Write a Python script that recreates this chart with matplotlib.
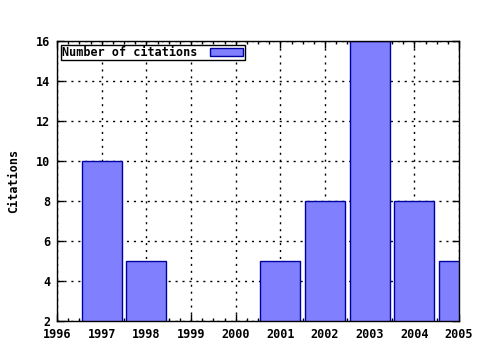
import matplotlib
matplotlib.use("Agg")
from matplotlib import pyplot as plt
from matplotlib.ticker import MultipleLocator

years = [1997, 1998, 1999, 2000, 2001, 2002, 2003, 2004, 2005]
citations = [10, 5, 0, 0, 5, 8, 16, 8, 5]
year_ticks = list(range(1996, 2006))
y_ticks = [2, 4, 6, 8, 10, 12, 14, 16]

plt.rcParams["font.family"] = "DejaVu Sans Mono"
plt.rcParams["font.weight"] = "bold"
plt.rcParams["axes.labelweight"] = "bold"
plt.rcParams["font.size"] = 8.5

fig = plt.figure(figsize=(4.8, 3.5), dpi=100)
ax = fig.add_axes([57 / 480, 1 - 321 / 350, 402 / 480, 280 / 350])

ax.bar(years, citations, width=0.9, color="#8080ff", edgecolor="#0000a0",
       linewidth=1, label="Number of citations", zorder=3)

ax.set_xlim(1996, 2005)
ax.set_ylim(2, 16)
ax.set_xticks(year_ticks)
ax.set_yticks(y_ticks)
ax.xaxis.set_minor_locator(MultipleLocator(0.25))
ax.tick_params(which="major", direction="in", length=5, width=1,
               top=True, right=True, pad=5)
ax.tick_params(which="minor", direction="in", length=2.5, width=1,
               top=True, right=False, left=False)
ax.grid(True, which="major", color="black", linestyle=(0, (1.5, 3.5)),
        linewidth=1, zorder=1)
for s in ax.spines.values():
    s.set_linewidth(1)
    s.set_zorder(4)

ax.set_ylabel("Citations", labelpad=11)

leg = ax.legend(loc="upper left", markerfirst=False, fancybox=False,
                framealpha=1, edgecolor="black", borderpad=0.12,
                handlelength=2.8, handleheight=0.6, handletextpad=1.1,
                borderaxespad=0.3, fontsize=8.5)
leg.get_frame().set_linewidth(1)

plt.savefig("out.png")
